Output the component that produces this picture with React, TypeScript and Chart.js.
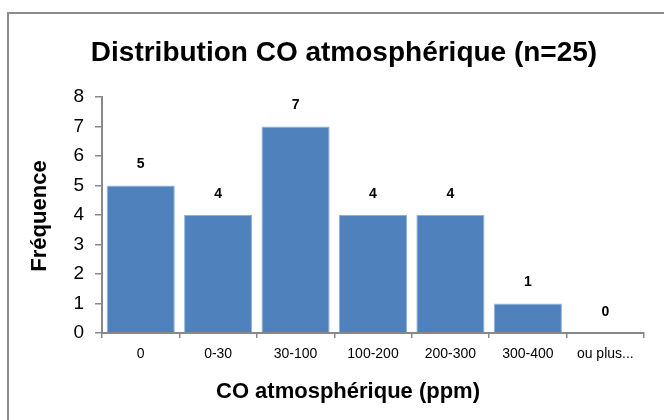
import React, { useEffect, useRef } from "react";
import { Chart, registerables } from "chart.js";

Chart.register(...registerables);

const categories = ["0", "0-30", "30-100", "100-200", "200-300", "300-400", "ou plus..."];
const frequencies = [5, 4, 7, 4, 4, 1, 0];
const yTicks = [0, 1, 2, 3, 4, 5, 6, 7, 8];
const chartTitle = "Distribution CO atmosphérique (n=25)";
const xTitle = "CO atmosphérique (ppm)";
const yTitle = "Fréquence";

const SANS = '"Liberation Sans", Arial, sans-serif';

export default function App() {
  const ref = useRef<HTMLCanvasElement | null>(null);

  useEffect(() => {
    document.body.style.margin = "0";
    const canvas = ref.current;
    if (!canvas) return;

    const textPlugin = {
      id: "texts",
      afterDatasetsDraw(chart: any) {
        const ctx = chart.ctx;
        const meta = chart.getDatasetMeta(0);
        ctx.save();
        ctx.fillStyle = "#000";
        ctx.textAlign = "center";
        ctx.textBaseline = "middle";
        ctx.font = `bold 14px ${SANS}`;
        meta.data.forEach((bar: any, i: number) => {
          ctx.fillText(String(frequencies[i]), bar.x, bar.y - 21);
        });
        ctx.restore();
      },
      afterDraw(chart: any) {
        const ctx = chart.ctx;
        const area = chart.chartArea;
        ctx.save();
        ctx.fillStyle = "#000";
        ctx.textAlign = "center";
        ctx.textBaseline = "middle";
        ctx.font = `bold 28px ${SANS}`;
        ctx.fillText(chartTitle, 344, 53);
        ctx.font = `bold 22px ${SANS}`;
        ctx.fillText(xTitle, 348, 392);
        ctx.translate(40, 216);
        ctx.rotate(-Math.PI / 2);
        ctx.fillText(yTitle, 0, 0);
        ctx.restore();
      },
    };

    const chart = new Chart(canvas, {
      type: "bar",
      data: {
        labels: categories,
        datasets: [
          {
            data: frequencies,
            backgroundColor: "#4f81bd",
            borderColor: "#8fb0dc",
            borderWidth: 1,
            barPercentage: 0.88,
            categoryPercentage: 1,
          },
        ],
      },
      options: {
        animation: false,
        responsive: false,
        maintainAspectRatio: false,
        layout: { padding: { top: 97, right: 20, left: 0, bottom: 0 } },
        plugins: {
          legend: { display: false },
          title: { display: false },
          tooltip: { enabled: false },
        },
        scales: {
          x: {
            offset: true,
            grid: {
              display: true,
              drawOnChartArea: false,
              drawTicks: true,
              offset: true,
              tickLength: 5,
              color: "#888",
              lineWidth: 1.5,
            },
            border: { display: true, color: "#888", width: 2 },
            ticks: {
              color: "#000",
              font: { family: SANS, size: 14 },
              padding: 8,
              maxRotation: 0,
              autoSkip: false,
            },
            afterFit(scale: any) {
              scale.height = 87;
            },
          },
          y: {
            min: 0,
            max: 8,
            afterBuildTicks(scale: any) {
              scale.ticks = yTicks.map((v) => ({ value: v }));
            },
            grid: {
              display: true,
              drawOnChartArea: false,
              drawTicks: true,
              tickLength: 7,
              color: "#888",
              lineWidth: 1.5,
            },
            border: { display: true, color: "#888", width: 2 },
            ticks: {
              color: "#000",
              font: { family: SANS, size: 19 },
              padding: 11,
            },
            afterFit(scale: any) {
              scale.width = 102;
            },
          },
        },
      },
      plugins: [textPlugin],
    });

    return () => chart.destroy();
  }, []);

  return (
    <div style={{ position: "relative", width: 664, height: 420, overflow: "hidden", background: "#fff" }}>
      <div
        style={{
          position: "absolute",
          left: 7,
          top: 12,
          width: 720,
          height: 460,
          border: "2px solid #8c8c8c",
          boxSizing: "border-box",
        }}
      />
      <canvas ref={ref} width={664} height={420} style={{ position: "absolute", left: 0, top: 0 }} />
    </div>
  );
}
